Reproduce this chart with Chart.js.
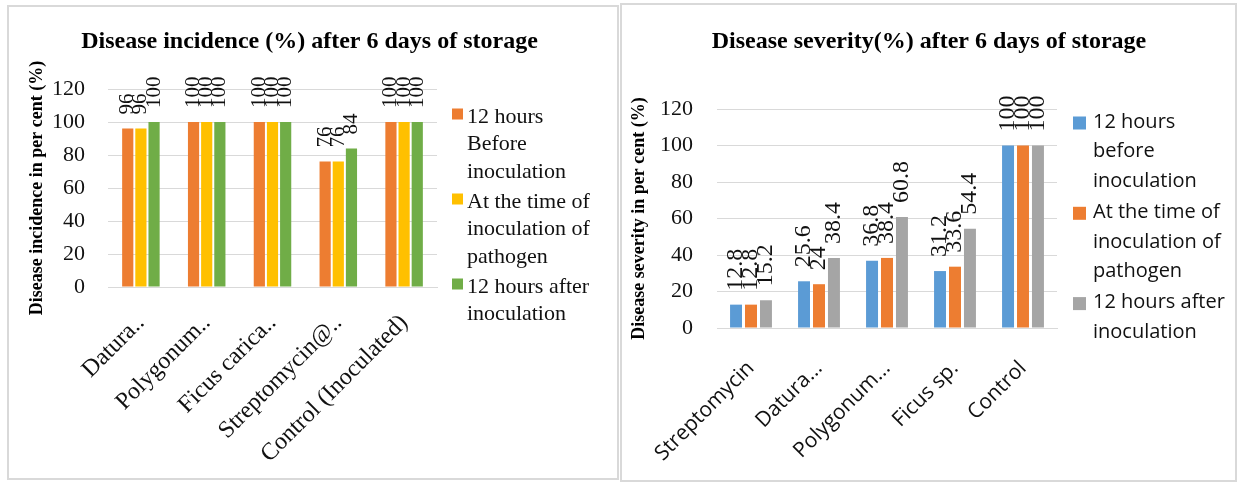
<!DOCTYPE html>
<html>
<head>
<meta charset="utf-8">
<script src="https://cdn.jsdelivr.net/npm/chart.js@4/dist/chart.umd.min.js"></script>
<style>
  body { margin: 0; background: #fff; }
  .wrap { position: absolute; top: 0; height: 483px; }
  .frame { position: absolute; border: 2px solid #d9d9d9; pointer-events: none; }
</style>
</head>
<body>
<div class="wrap" style="left:0;width:619px"><canvas id="incidenceChart" width="619" height="483"></canvas></div>
<div class="wrap" style="left:619px;width:620px"><canvas id="severityChart" width="620" height="483"></canvas></div>
<div class="frame" style="left:7px;top:5px;width:608px;height:471px"></div>
<div class="frame" style="left:620px;top:3px;width:613px;height:475px"></div>
<script>
// data - disease incidence
const incidenceLabels = ['Datura..', 'Polygonum..', 'Ficus carica..', 'Streptomycin@..', 'Control (Inoculated)'];
const incBefore = [96, 100, 100, 76, 100];
const incAtTime = [96, 100, 100, 76, 100];
const incAfter = [100, 100, 100, 84, 100];

// data - disease severity
const severityLabels = ['Streptomycin', 'Datura...', 'Polygonum...', 'Ficus sp.', 'Control'];
const sevBefore = [12.8, 25.6, 36.8, 31.2, 100];
const sevAtTime = [12.8, 24, 38.4, 33.6, 100];
const sevAfter = [15.2, 38.4, 60.8, 54.4, 100];

const yTicks = [0, 20, 40, 60, 80, 100, 120];

const SERIF = "'Liberation Serif', 'Times New Roman', serif";
const SANS = "'Open Sans', 'Liberation Sans', sans-serif";

// vertical value labels above each bar
const barValueLabels = {
    id: 'barValueLabels',
    afterDatasetsDraw(chart, args, opts) {
        const ctx = chart.ctx;
        ctx.save();
        ctx.font = opts.size + 'px ' + opts.family;
        ctx.fillStyle = '#111';
        ctx.textAlign = 'left';
        ctx.textBaseline = 'middle';
        chart.data.datasets.forEach(function(ds, i) {
            chart.getDatasetMeta(i).data.forEach(function(bar, j) {
                ctx.save();
                ctx.translate(bar.x, bar.y - opts.gap);
                ctx.rotate(-Math.PI / 2);
                ctx.fillText(String(ds.data[j]), 0, 0);
                ctx.restore();
            });
        });
        ctx.restore();
    }
};

// legend with wrapped (multi line) entries, like the excel one
const wrapLegend = {
    id: 'wrapLegend',
    afterDraw(chart, args, opts) {
        const ctx = chart.ctx;
        ctx.save();
        ctx.font = opts.size + 'px ' + opts.family;
        ctx.textAlign = 'left';
        ctx.textBaseline = 'middle';
        let y = opts.y;
        chart.data.datasets.forEach(function(ds) {
            ctx.fillStyle = ds.backgroundColor;
            ctx.fillRect(opts.x, y - opts.box / 2 + opts.boxShift, opts.box, opts.box);
            ctx.fillStyle = '#111';
            ds.label.forEach(function(line) {
                ctx.fillText(line, opts.textX, y);
                y += opts.lineHeight;
            });
            y += opts.gap;
        });
        ctx.restore();
    }
};

function makeChart(id, cfg) {
    const ctx = document.getElementById(id).getContext('2d');
    return new Chart(ctx, {
        type: 'bar',
        data: {
            labels: cfg.labels,
            datasets: cfg.series.map(function(s) {
                return {
                    label: s.name,
                    data: s.data,
                    backgroundColor: s.color,
                    categoryPercentage: cfg.catPct,
                    barPercentage: cfg.barPct
                };
            })
        },
        options: {
            responsive: false,
            animation: false,
            layout: { padding: 0 },
            plugins: {
                title: {
                    display: true,
                    text: cfg.title,
                    color: '#000',
                    font: { family: SERIF, size: 24, weight: 'bold' },
                    padding: { top: 27.6, bottom: cfg.titleGap }
                },
                legend: { display: false },
                tooltip: { enabled: false },
                barValueLabels: cfg.valueLabels,
                wrapLegend: cfg.legend
            },
            scales: {
                x: {
                    afterFit: function(scale) {
                        scale.height = cfg.xHeight;
                        scale.paddingLeft = 0;
                        scale.paddingRight = 0;
                    },
                    grid: { display: false },
                    border: { display: true, color: '#d9d9d9' },
                    ticks: {
                        color: '#111',
                        minRotation: 45,
                        maxRotation: 45,
                        autoSkip: false,
                        padding: cfg.xTickPad,
                        font: cfg.xFont
                    }
                },
                y: {
                    min: 0,
                    max: 120,
                    afterFit: function(scale) { scale.width = cfg.yWidth; },
                    afterBuildTicks: function(scale) {
                        scale.ticks = yTicks.map(function(v) { return { value: v }; });
                    },
                    grid: { color: '#d9d9d9', drawTicks: false },
                    border: { display: false },
                    ticks: {
                        color: '#111',
                        padding: cfg.yTickPad,
                        font: { family: SERIF, size: 22 }
                    },
                    title: {
                        display: true,
                        text: cfg.yTitle,
                        color: '#000',
                        font: { family: SERIF, size: 18, weight: 'bold' },
                        padding: { top: cfg.yTitlePad, bottom: 0 }
                    }
                },
                // empty axis on the right, keeps room for the legend
                legendRoom: {
                    position: 'right',
                    grid: { display: false },
                    border: { display: false },
                    ticks: { display: false },
                    afterFit: function(scale) { scale.width = cfg.legendRoom; }
                }
            }
        },
        plugins: [barValueLabels, wrapLegend]
    });
}

makeChart('incidenceChart', {
    labels: incidenceLabels,
    title: 'Disease incidence (%) after 6 days of storage',
    yTitle: 'Disease incidence in per cent (%)',
    series: [
        { name: ['12 hours', 'Before', 'inoculation'], data: incBefore, color: '#ED7D31' },
        { name: ['At the time of', 'inoculation of', 'pathogen'], data: incAtTime, color: '#FFC000' },
        { name: ['12 hours after', 'inoculation'], data: incAfter, color: '#70AD47' }
    ],
    catPct: 0.6,
    barPct: 0.85,
    legendRoom: 182,
    titleGap: 32.6,
    xHeight: 196,
    xTickPad: 14,
    xFont: { family: SERIF, size: 24 },
    yWidth: 108,
    yTitlePad: 27,
    yTickPad: 23,
    valueLabels: { family: SERIF, size: 21, gap: 14 },
    legend: { family: SERIF, size: 22, x: 452, textX: 467, y: 117, box: 11, boxShift: -3, lineHeight: 27.5, gap: 2.5 }
});

makeChart('severityChart', {
    labels: severityLabels,
    title: 'Disease severity(%) after 6 days of storage',
    yTitle: 'Disease severity in per cent (%)',
    series: [
        { name: ['12 hours', 'before', 'inoculation'], data: sevBefore, color: '#5B9BD5' },
        { name: ['At the time of', 'inoculation of', 'pathogen'], data: sevAtTime, color: '#ED7D31' },
        { name: ['12 hours after', 'inoculation'], data: sevAfter, color: '#A5A5A5' }
    ],
    catPct: 0.66,
    barPct: 0.8,
    legendRoom: 182,
    titleGap: 52.6,
    xHeight: 155,
    xTickPad: 20,
    xFont: { family: SANS, size: 21 },
    yWidth: 98,
    yTitlePad: 10,
    yTickPad: 24,
    valueLabels: { family: SERIF, size: 24, gap: 14 },
    legend: { family: SANS, size: 20, x: 454, textX: 474, y: 122, box: 13, boxShift: 1, lineHeight: 29.7, gap: 1.2 }
});
</script>
</body>
</html>
